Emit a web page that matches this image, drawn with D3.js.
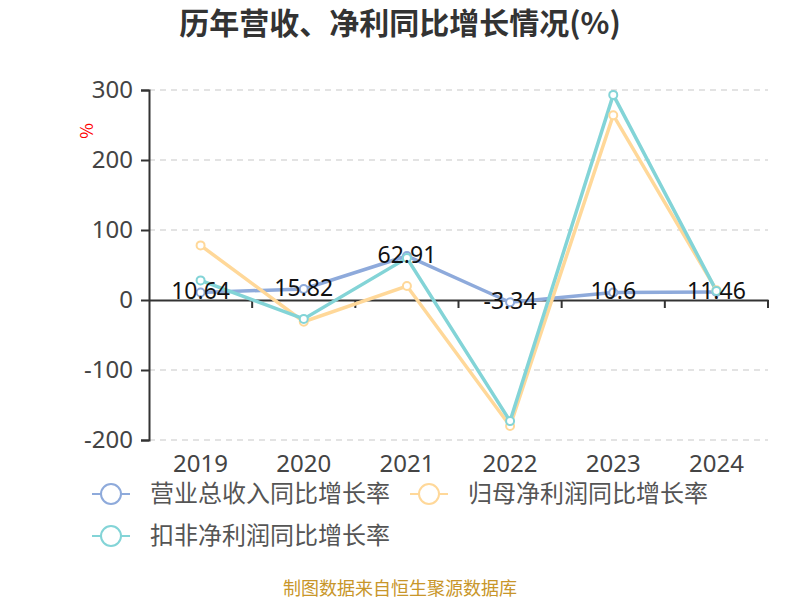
<!DOCTYPE html>
<html>
<head>
  <meta charset="UTF-8" />
  <title>历年营收、净利同比增长情况</title>
  <script src="https://d3js.org/d3.v7.min.js"></script>
  <style>
    body { margin: 0; background: #fff; }
    text { font-family: "Noto Sans CJK SC", "Noto Sans", sans-serif; }
  </style>
</head>
<body>
  <div id="chart"></div>
  <script>
    // data
    const years = ["2019", "2020", "2021", "2022", "2023", "2024"];
    const revenue = [10.64, 15.82, 62.91, -3.34, 10.6, 11.46];
    const netProfit = [78, -31, 20, -180, 264, 14];
    const deductedProfit = [28, -27, 60, -173, 293, 13];
    const yTicks = [-200, -100, 0, 100, 200, 300];
    const seriesNames = ["营业总收入同比增长率", "归母净利润同比增长率", "扣非净利润同比增长率"];
    const colors = ["#8eaadb", "#ffd899", "#83d4d7"];

    const width = 800, height = 600;
    const margin = { left: 149, right: 32, top: 90, bottom: 160 };

    const svg = d3.select("#chart")
      .append("svg")
      .attr("width", width)
      .attr("height", height);

    const xScale = d3.scaleBand()
      .domain(years)
      .range([margin.left, width - margin.right]);

    const yScale = d3.scaleLinear()
      .domain([-200, 300])
      .range([height - margin.bottom, margin.top]);

    // title
    svg.append("text")
      .attr("x", 400)
      .attr("y", 34)
      .attr("text-anchor", "middle")
      .attr("font-size", 30)
      .attr("font-weight", "bold")
      .attr("fill", "#333")
      .text("历年营收、净利同比增长情况(%)");

    // unit label
    svg.append("text")
      .attr("transform", "translate(93,131) rotate(-90)")
      .attr("text-anchor", "middle")
      .attr("font-size", 17)
      .attr("fill", "#ff0000")
      .text("%");

    // grid lines
    svg.append("g")
      .selectAll("line")
      .data(yTicks.filter(d => d !== 0))
      .enter()
      .append("line")
      .attr("x1", margin.left)
      .attr("x2", width - margin.right)
      .attr("y1", d => yScale(d))
      .attr("y2", d => yScale(d))
      .attr("stroke", "#c8c8c8")
      .attr("stroke-width", 1.2)
      .attr("stroke-dasharray", "6,5");

    // y axis
    const yAxis = d3.axisLeft(yScale)
      .tickValues(yTicks)
      .tickFormat(d => String(d))
      .tickSize(8)
      .tickPadding(8);
    const gy = svg.append("g")
      .attr("transform", "translate(" + margin.left + ",0)")
      .call(yAxis);
    gy.select(".domain").attr("stroke", "#333").attr("stroke-width", 2);
    gy.selectAll(".tick line").attr("stroke", "#333").attr("stroke-width", 2);
    gy.selectAll(".tick text")
      .attr("font-size", 24)
      .attr("fill", "#444")
      .style("font-family", "'Noto Sans', sans-serif");

    // x axis at zero
    const xAxis = d3.axisBottom(xScale).tickSize(0).tickPadding(0).tickFormat("");
    const gx = svg.append("g")
      .attr("transform", "translate(0," + yScale(0) + ")")
      .call(xAxis);
    gx.select(".domain").attr("stroke", "#333").attr("stroke-width", 2);

    // ticks between bands
    const bounds = years.map(d => xScale(d) + xScale.bandwidth());
    gx.selectAll(".btick")
      .data(bounds)
      .enter()
      .append("line")
      .attr("x1", d => d)
      .attr("x2", d => d)
      .attr("y1", 0)
      .attr("y2", 8)
      .attr("stroke", "#333")
      .attr("stroke-width", 2);

    // year labels at the bottom
    svg.append("g")
      .selectAll("text")
      .data(years)
      .enter()
      .append("text")
      .attr("x", d => xScale(d) + xScale.bandwidth() / 2)
      .attr("y", yScale(-200) + 32)
      .attr("text-anchor", "middle")
      .attr("font-size", 24)
      .attr("fill", "#444")
      .style("font-family", "'Noto Sans', sans-serif")
      .text(d => d);

    const allSeries = [revenue, netProfit, deductedProfit];
    const cx = d => xScale(d) + xScale.bandwidth() / 2;

    const line = d3.line()
      .x((d, i) => cx(years[i]))
      .y(d => yScale(d));

    allSeries.forEach((values, k) => {
      svg.append("path")
        .datum(values)
        .attr("fill", "none")
        .attr("stroke", colors[k])
        .attr("stroke-width", 3.5)
        .attr("d", line);
    });

    allSeries.forEach((values, k) => {
      svg.append("g")
        .selectAll("circle")
        .data(values)
        .enter()
        .append("circle")
        .attr("cx", (d, i) => cx(years[i]))
        .attr("cy", d => yScale(d))
        .attr("r", 4)
        .attr("fill", "#fff")
        .attr("stroke", colors[k])
        .attr("stroke-width", 2);
    });

    // value labels for revenue series
    svg.append("g")
      .selectAll("text")
      .data(revenue)
      .enter()
      .append("text")
      .attr("x", (d, i) => cx(years[i]))
      .attr("y", d => yScale(d))
      .attr("dy", "0.3em")
      .attr("text-anchor", "middle")
      .attr("font-size", 23)
      .attr("fill", "#111")
      .style("font-family", "'Noto Sans', sans-serif")
      .text(d => d);

    // legend
    const legendPos = [[92, 494], [410, 494], [92, 536]];
    seriesNames.forEach((name, k) => {
      const g = svg.append("g")
        .attr("transform", "translate(" + legendPos[k][0] + "," + legendPos[k][1] + ")");
      g.append("line")
        .attr("x1", 0).attr("x2", 38)
        .attr("y1", 0).attr("y2", 0)
        .attr("stroke", colors[k])
        .attr("stroke-width", 2);
      g.append("circle")
        .attr("cx", 19).attr("cy", 0).attr("r", 10)
        .attr("fill", "#fff")
        .attr("stroke", colors[k])
        .attr("stroke-width", 2);
      g.append("text")
        .attr("x", 58)
        .attr("y", 0)
        .attr("dy", "0.35em")
        .attr("font-size", 24)
        .attr("fill", "#555")
        .text(name);
    });

    // footer
    svg.append("text")
      .attr("x", 400)
      .attr("y", 595)
      .attr("text-anchor", "middle")
      .attr("font-size", 18)
      .attr("fill", "#c8962a")
      .text("制图数据来自恒生聚源数据库");
  </script>
</body>
</html>
